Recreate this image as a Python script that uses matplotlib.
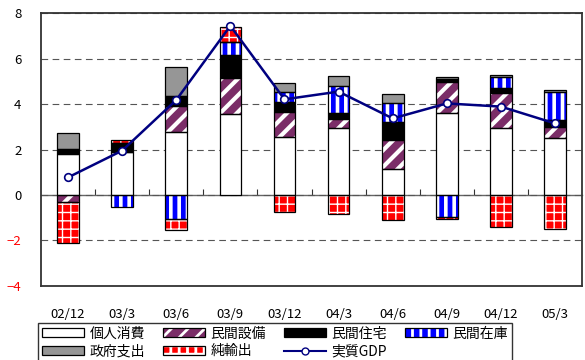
import numpy as np
import matplotlib
matplotlib.use("Agg")
import matplotlib.pyplot as plt
from matplotlib.patches import Patch
from matplotlib.lines import Line2D

plt.rcParams['font.family'] = ['Noto Sans CJK JP', 'DejaVu Sans']
plt.rcParams['hatch.linewidth'] = 2.0

# 実質GDP成長率の寄与度分解（前年同期比、%）
quarters = ["02/12", "03/3", "03/6", "03/9", "03/12", "04/3", "04/6", "04/9", "04/12", "05/3"]
consumption = [1.82, 1.90, 2.76, 3.55, 2.56, 2.96, 1.13, 3.59, 2.93, 2.49]
capex       = [-0.30, 0.00, 1.16, 1.59, 1.11, 0.38, 1.29, 1.37, 1.57, 0.49]
housing     = [0.15, 0.37, 0.44, 1.02, 0.43, 0.25, 0.80, 0.14, 0.20, 0.32]
inventory   = [0.06, -0.55, -1.06, 0.59, 0.45, 1.22, 0.81, -0.96, 0.48, 1.22]
government  = [0.71, 0.00, 1.29, 0.00, 0.37, 0.44, 0.40, 0.11, 0.10, 0.10]
net_exports = [-1.80, 0.15, -0.49, 0.66, -0.74, -0.85, -1.10, -0.10, -1.40, -1.52]
real_gdp    = [0.77, 1.95, 4.18, 7.45, 4.21, 4.55, 3.37, 4.03, 3.89, 3.15]

series = [
    ("個人消費", consumption, "white", None, 2.0),
    ("民間設備", capex, "#7b2d68", "//", 3.0),
    ("民間住宅", housing, "black", None, 2.0),
    ("民間在庫", inventory, "#0000ff", "||", 2.6),
    ("政府支出", government, "#969696", None, 2.0),
    ("純輸出", net_exports, "#ff0000", "++", 1.0),
]

fig = plt.figure(figsize=(5.85, 3.6), dpi=100)
ax = fig.add_axes([0.070, 0.2064, 0.925, 0.7566])

x = np.arange(len(quarters))
width = 0.4
pos_base = np.zeros(len(quarters))
neg_base = np.zeros(len(quarters))

handles = []
for name, vals, color, hatch, hlw in series:
    v = np.asarray(vals, dtype=float)
    bottoms = np.where(v >= 0, pos_base, neg_base)
    if hatch:
        fill = ax.bar(x, v, width, bottom=bottoms, color=color, edgecolor="white",
                      hatch=hatch, linewidth=0, zorder=2)
        for p in fill:
            if hasattr(p, "set_hatch_linewidth"):
                p.set_hatch_linewidth(hlw)
        fill_h = Patch(facecolor=color, edgecolor="white", hatch=hatch, linewidth=0)
        if hasattr(fill_h, "set_hatch_linewidth"):
            fill_h.set_hatch_linewidth(hlw)
    else:
        ax.bar(x, v, width, bottom=bottoms, color=color, linewidth=0, zorder=2)
        fill_h = Patch(facecolor=color, linewidth=0)
    ax.bar(x, v, width, bottom=bottoms, facecolor="none", edgecolor="black",
           linewidth=0.9, zorder=3)
    edge_h = Patch(facecolor="none", edgecolor="black", linewidth=0.9)
    handles.append(((fill_h, edge_h), name))
    pos_base = pos_base + np.where(v >= 0, v, 0)
    neg_base = neg_base + np.where(v < 0, v, 0)

ax.plot(x, real_gdp, color="#000080", linewidth=1.8, marker="o", markersize=5.5,
        markerfacecolor="white", markeredgecolor="#000080", markeredgewidth=1.2, zorder=5)
gdp_h = Line2D([], [], color="#000080", linewidth=1.5, marker="o", markersize=5,
               markerfacecolor="white", markeredgecolor="#000080")
handles.append((gdp_h, "実質GDP"))

ax.set_xlim(-0.5, len(quarters) - 0.5)
ax.set_ylim(-4, 8)
ax.set_yticks([-4, -2, 0, 2, 4, 6, 8])
ax.set_yticklabels(["−4", "−2", "0", "2", "4", "6", "8"])
for lab, val in zip(ax.get_yticklabels(), [-4, -2, 0, 2, 4, 6, 8]):
    lab.set_color("red" if val < 0 else "black")
ax.tick_params(axis="y", length=0, pad=14, labelsize=9.5)
ax.set_xticks(x)
ax.set_xticklabels(quarters)
ax.tick_params(axis="x", length=0, pad=16, labelsize=9.5)

ax.yaxis.grid(True, linestyle=(0, (6, 4)), color="#555555", linewidth=0.8, zorder=0)
ax.set_axisbelow(True)
for s in ax.spines.values():
    s.set_color("#333333")
    s.set_linewidth(1.3)

# zero line with category-boundary ticks
zero = ax.secondary_xaxis(4 / 12)
zero.spines["bottom"].set_color("#666666")
zero.spines["bottom"].set_linewidth(1.0)
zero.set_xticks(x[:-1] + 0.5)
zero.tick_params(axis="x", direction="in", length=4, width=0.8, color="#333333",
                 labelbottom=False, labeltop=False)

# legend filled row by row (4 columns, 2 rows)
ncol = 4
nrow = int(np.ceil(len(handles) / ncol))
order = [r * ncol + c for c in range(ncol) for r in range(nrow) if r * ncol + c < len(handles)]
ordered = [handles[i] for i in order]
leg = fig.legend([h for h, _ in ordered], [n for _, n in ordered],
                 loc="upper left", bbox_to_anchor=(0.065, 0.104, 0.81, 0.0),
                 mode="expand", ncol=ncol, fontsize=10, frameon=True, fancybox=False,
                 handlelength=3.0, handleheight=0.6, handletextpad=0.4,
                 borderpad=0.3, labelspacing=0.25, borderaxespad=0)
leg.get_frame().set_edgecolor("black")
leg.get_frame().set_linewidth(1.0)

fig.savefig("out.png", dpi=100)
